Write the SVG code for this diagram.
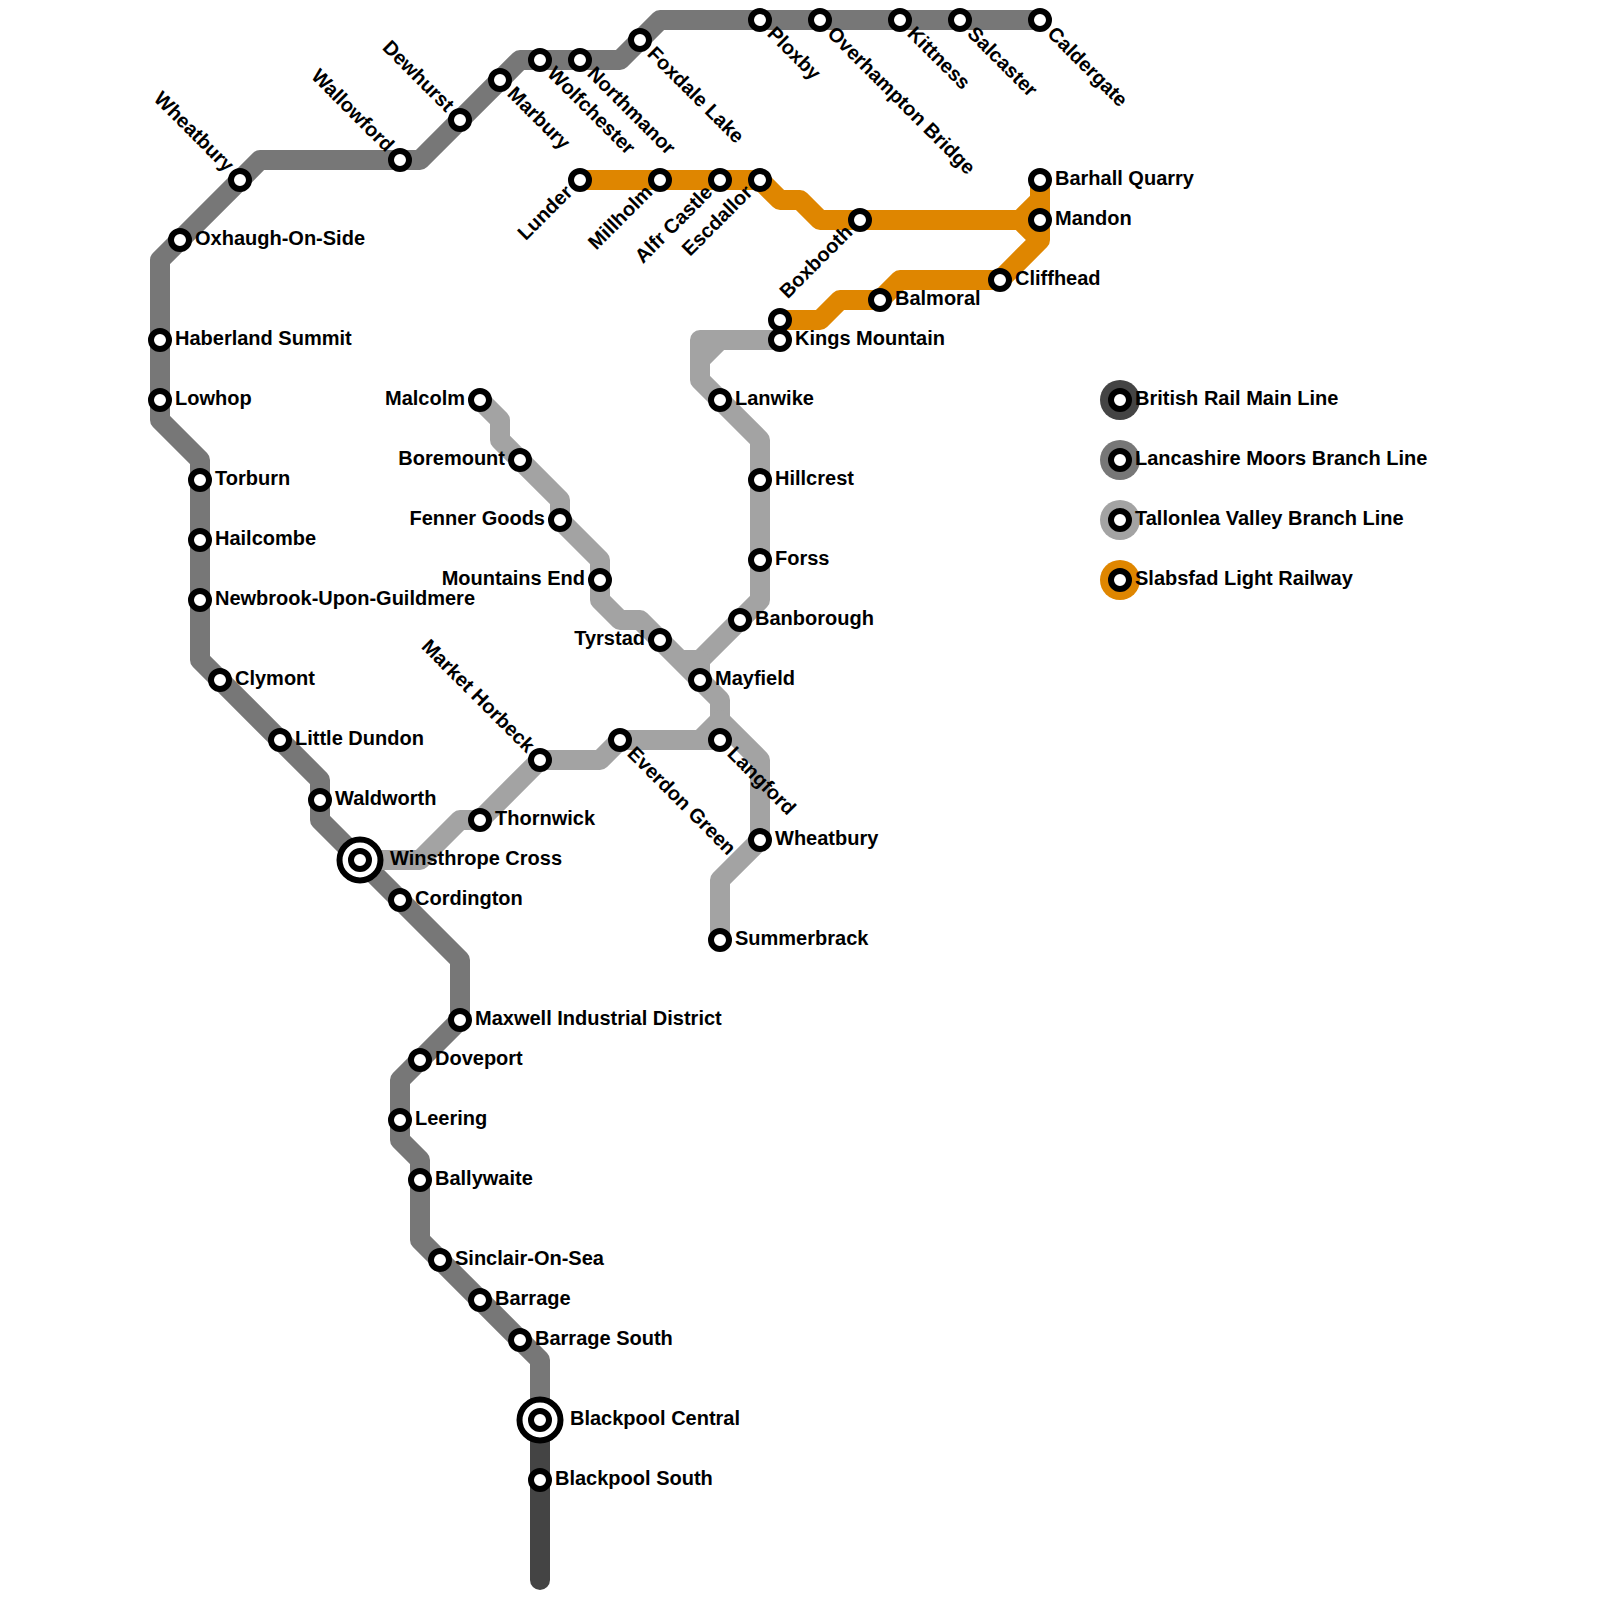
<svg xmlns="http://www.w3.org/2000/svg" width="1600" height="1600" viewBox="0 0 1600 1600">
<style>
.l{fill:none;stroke-width:20;stroke-linecap:round;stroke-linejoin:round}
.main{stroke:#444444}.lanc{stroke:#777777}.tall{stroke:#a3a3a3}.slab{stroke:#df8600}
.s{fill:#fff;stroke:#000;stroke-width:6}
.i{fill:#fff;stroke:#000;stroke-width:6}
text{font-family:"Liberation Sans",Arial,sans-serif;font-weight:700;font-size:20px;fill:#000}
.e{text-anchor:end}
</style>
<rect width="1600" height="1600" fill="#fff"/>
<g id="connectors">
<path class="l main" d="M540 1420V1580"/>
<path class="l lanc" d="M1040 20H660L620 60H520L420 160H260L160 260V420L200 460V660L320 780V820L460 960V1020L400 1080V1140L420 1160V1240L540 1360V1420"/>
<path class="l tall" d="M780 340H700V380L760 440V600L700 660V680M720 340L700 360"/>
<path class="l tall" d="M480 400L500 420V440L560 500V520L600 560V600L620 620H640L680 660H700M660 640L720 700V720L760 760V840L720 880V940"/>
<path class="l tall" d="M720 720L700 740H620L600 760H540L480 820H460L420 860H360M620 740H720V720"/>
<path class="l slab" d="M580 180H760L780 200H800L820 220H1020L1040 200V180M1020 220L1040 240V240L1000 280H900L880 300H840L820 320H780M1040 200V240"/>
</g>
<g id="wheatbury-n"><circle class="s" cx="240" cy="180" r="9"/><text class="e" transform="rotate(45 240 180)" x="225" y="185">Wheatbury</text></g>
<g id="oxhaugh"><circle class="s" cx="180" cy="240" r="9"/><text x="195" y="245">Oxhaugh-On-Side</text></g>
<g id="haberland"><circle class="s" cx="160" cy="340" r="9"/><text x="175" y="345">Haberland Summit</text></g>
<g id="lowhop"><circle class="s" cx="160" cy="400" r="9"/><text x="175" y="405">Lowhop</text></g>
<g id="torburn"><circle class="s" cx="200" cy="480" r="9"/><text x="215" y="485">Torburn</text></g>
<g id="hailcombe"><circle class="s" cx="200" cy="540" r="9"/><text x="215" y="545">Hailcombe</text></g>
<g id="newbrook"><circle class="s" cx="200" cy="600" r="9"/><text x="215" y="605">Newbrook-Upon-Guildmere</text></g>
<g id="clymont"><circle class="s" cx="220" cy="680" r="9"/><text x="235" y="685">Clymont</text></g>
<g id="little-dundon"><circle class="s" cx="280" cy="740" r="9"/><text x="295" y="745">Little Dundon</text></g>
<g id="waldworth"><circle class="s" cx="320" cy="800" r="9"/><text x="335" y="805">Waldworth</text></g>
<g id="winsthrope"><circle class="i" cx="360" cy="860" r="20.5"/><circle class="s" cx="360" cy="860" r="9"/><text x="390" y="865">Winsthrope Cross</text></g>
<g id="cordington"><circle class="s" cx="400" cy="900" r="9"/><text x="415" y="905">Cordington</text></g>
<g id="maxwell"><circle class="s" cx="460" cy="1020" r="9"/><text x="475" y="1025">Maxwell Industrial District</text></g>
<g id="doveport"><circle class="s" cx="420" cy="1060" r="9"/><text x="435" y="1065">Doveport</text></g>
<g id="leering"><circle class="s" cx="400" cy="1120" r="9"/><text x="415" y="1125">Leering</text></g>
<g id="ballywaite"><circle class="s" cx="420" cy="1180" r="9"/><text x="435" y="1185">Ballywaite</text></g>
<g id="sinclair"><circle class="s" cx="440" cy="1260" r="9"/><text x="455" y="1265">Sinclair-On-Sea</text></g>
<g id="barrage"><circle class="s" cx="480" cy="1300" r="9"/><text x="495" y="1305">Barrage</text></g>
<g id="barrage-south"><circle class="s" cx="520" cy="1340" r="9"/><text x="535" y="1345">Barrage South</text></g>
<g id="blackpool-central"><circle class="i" cx="540" cy="1420" r="20.5"/><circle class="s" cx="540" cy="1420" r="9"/><text x="570" y="1425">Blackpool Central</text></g>
<g id="blackpool-south"><circle class="s" cx="540" cy="1480" r="9"/><text x="555" y="1485">Blackpool South</text></g>
<g id="wallowford"><circle class="s" cx="400" cy="160" r="9"/><text class="e" transform="rotate(45 400 160)" x="385" y="165">Wallowford</text></g>
<g id="dewhurst"><circle class="s" cx="460" cy="120" r="9"/><text class="e" transform="rotate(45 460 120)" x="445" y="125">Dewhurst</text></g>
<g id="marbury"><circle class="s" cx="500" cy="80" r="9"/><text transform="rotate(45 500 80)" x="515" y="86">Marbury</text></g>
<g id="wolfchester"><circle class="s" cx="540" cy="60" r="9"/><text transform="rotate(45 540 60)" x="555" y="66">Wolfchester</text></g>
<g id="northmanor"><circle class="s" cx="580" cy="60" r="9"/><text transform="rotate(45 580 60)" x="595" y="66">Northmanor</text></g>
<g id="foxdale"><circle class="s" cx="640" cy="40" r="9"/><text transform="rotate(45 640 40)" x="655" y="46">Foxdale Lake</text></g>
<g id="ploxby"><circle class="s" cx="760" cy="20" r="9"/><text transform="rotate(45 760 20)" x="775" y="26">Ploxby</text></g>
<g id="overhampton"><circle class="s" cx="820" cy="20" r="9"/><text transform="rotate(45 820 20)" x="835" y="26">Overhampton Bridge</text></g>
<g id="kittness"><circle class="s" cx="900" cy="20" r="9"/><text transform="rotate(45 900 20)" x="915" y="26">Kittness</text></g>
<g id="salcaster"><circle class="s" cx="960" cy="20" r="9"/><text transform="rotate(45 960 20)" x="975" y="26">Salcaster</text></g>
<g id="caldergate"><circle class="s" cx="1040" cy="20" r="9"/><text transform="rotate(45 1040 20)" x="1055" y="26">Caldergate</text></g>
<g id="lunder"><circle class="s" cx="580" cy="180" r="9"/><text class="e" transform="rotate(-45 580 180)" x="566" y="185">Lunder</text></g>
<g id="millholm"><circle class="s" cx="660" cy="180" r="9"/><text class="e" transform="rotate(-45 660 180)" x="646" y="185">Millholm</text></g>
<g id="alfr-castle"><circle class="s" cx="720" cy="180" r="9"/><text class="e" transform="rotate(-45 720 180)" x="706" y="185">Alfr Castle</text></g>
<g id="escdallor"><circle class="s" cx="760" cy="180" r="9"/><text class="e" transform="rotate(-45 760 180)" x="746" y="185">Escdallor</text></g>
<g id="boxbooth"><circle class="s" cx="860" cy="220" r="9"/><text class="e" transform="rotate(-45 860 220)" x="846" y="225">Boxbooth</text></g>
<g id="barhall"><circle class="s" cx="1040" cy="180" r="9"/><text x="1055" y="185">Barhall Quarry</text></g>
<g id="mandon"><circle class="s" cx="1040" cy="220" r="9"/><text x="1055" y="225">Mandon</text></g>
<g id="cliffhead"><circle class="s" cx="1000" cy="280" r="9"/><text x="1015" y="285">Cliffhead</text></g>
<g id="balmoral"><circle class="s" cx="880" cy="300" r="9"/><text x="895" y="305">Balmoral</text></g>
<g id="slabsfad-end"><circle class="s" cx="780" cy="320" r="9"/></g>
<g id="kings-mountain"><circle class="s" cx="780" cy="340" r="9"/><text x="795" y="345">Kings Mountain</text></g>
<g id="lanwike"><circle class="s" cx="720" cy="400" r="9"/><text x="735" y="405">Lanwike</text></g>
<g id="hillcrest"><circle class="s" cx="760" cy="480" r="9"/><text x="775" y="485">Hillcrest</text></g>
<g id="forss"><circle class="s" cx="760" cy="560" r="9"/><text x="775" y="565">Forss</text></g>
<g id="banborough"><circle class="s" cx="740" cy="620" r="9"/><text x="755" y="625">Banborough</text></g>
<g id="mayfield"><circle class="s" cx="700" cy="680" r="9"/><text x="715" y="685">Mayfield</text></g>
<g id="langford"><circle class="s" cx="720" cy="740" r="9"/><text transform="rotate(45 720 740)" x="735" y="746">Langford</text></g>
<g id="wheatbury-s"><circle class="s" cx="760" cy="840" r="9"/><text x="775" y="845">Wheatbury</text></g>
<g id="summerbrack"><circle class="s" cx="720" cy="940" r="9"/><text x="735" y="945">Summerbrack</text></g>
<g id="everdon"><circle class="s" cx="620" cy="740" r="9"/><text transform="rotate(45 620 740)" x="635" y="746">Everdon Green</text></g>
<g id="market-horbeck"><circle class="s" cx="540" cy="760" r="9"/><text class="e" transform="rotate(45 540 760)" x="526" y="765">Market Horbeck</text></g>
<g id="thornwick"><circle class="s" cx="480" cy="820" r="9"/><text x="495" y="825">Thornwick</text></g>
<g id="malcolm"><circle class="s" cx="480" cy="400" r="9"/><text class="e" x="465" y="405">Malcolm</text></g>
<g id="boremount"><circle class="s" cx="520" cy="460" r="9"/><text class="e" x="505" y="465">Boremount</text></g>
<g id="fenner"><circle class="s" cx="560" cy="520" r="9"/><text class="e" x="545" y="525">Fenner Goods</text></g>
<g id="mountains-end"><circle class="s" cx="600" cy="580" r="9"/><text class="e" x="585" y="585">Mountains End</text></g>
<g id="tyrstad"><circle class="s" cx="660" cy="640" r="9"/><text class="e" x="645" y="645">Tyrstad</text></g>
<g id="legend-main"><circle cx="1120" cy="400" r="20" fill="#444444"/><circle class="s" cx="1120" cy="400" r="9"/><text x="1135" y="405">British Rail Main Line</text></g>
<g id="legend-lanc"><circle cx="1120" cy="460" r="20" fill="#777777"/><circle class="s" cx="1120" cy="460" r="9"/><text x="1135" y="465">Lancashire Moors Branch Line</text></g>
<g id="legend-tall"><circle cx="1120" cy="520" r="20" fill="#a3a3a3"/><circle class="s" cx="1120" cy="520" r="9"/><text x="1135" y="525">Tallonlea Valley Branch Line</text></g>
<g id="legend-slab"><circle cx="1120" cy="580" r="20" fill="#df8600"/><circle class="s" cx="1120" cy="580" r="9"/><text x="1135" y="585">Slabsfad Light Railway</text></g>
</svg>
